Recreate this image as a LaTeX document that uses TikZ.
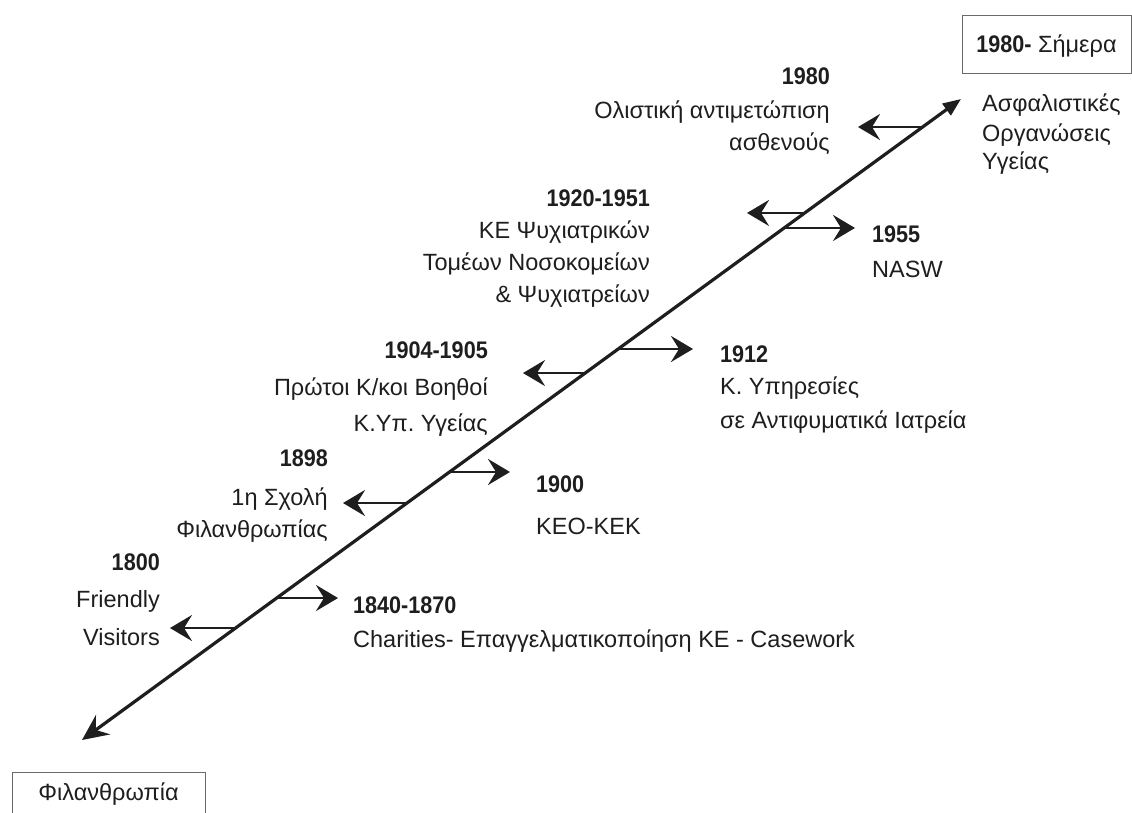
\documentclass[tikz,border=0pt]{standalone}
\usepackage{fontspec}
\setmainfont{Liberation Sans}
\newfontfamily\yrfont{Liberation Sans}[FakeStretch=0.9]
\usetikzlibrary{arrows.meta}
\definecolor{ink}{HTML}{1E1E1E}
\definecolor{boxline}{HTML}{6A6A6A}
\frenchspacing
\begin{document}
\begin{tikzpicture}[x=1pt,y=-1pt,
  reg/.style={font=\fontsize{23.5}{28}\selectfont, text=ink, inner sep=0pt},
  yr/.style={font=\yrfont\fontsize{24}{28}\selectfont\bfseries, text=ink, inner sep=0pt},
  mainline/.style={draw=ink, line width=3.2pt,
    {Stealth[length=26pt,width=24pt,inset=9pt]}-{Triangle[length=18pt,width=14pt]}},
  evarrow/.style={draw=ink, line width=2.8pt, -{Stealth[length=22pt,width=26pt,inset=8pt]}},
  period/.style={draw=boxline, line width=0.8pt, inner sep=0pt, text=ink}]
\useasboundingbox (0,0) rectangle (1132,813);
\fill[white] (0,0) rectangle (1132,813);

% main time axis
\coordinate (start) at (82,740);
\coordinate (end) at (961,99);
\draw[mainline] (start) -- (end);

% points on the axis where events branch
\path (start) -- (end)
  coordinate[pos=0.1747] (e1)
  coordinate[pos=0.2215] (e2)
  coordinate[pos=0.3697] (e3)
  coordinate[pos=0.4181] (e4)
  coordinate[pos=0.5725] (e5)
  coordinate[pos=0.6100] (e6)
  coordinate[pos=0.8222] (e7)
  coordinate[pos=0.7988] (e8)
  coordinate[pos=0.9563] (e9);

\coordinate (t1) at (170,0 |- e1);
\coordinate (t2) at (338,0 |- e2);
\coordinate (t3) at (343,0 |- e3);
\coordinate (t4) at (510,0 |- e4);
\coordinate (t5) at (523,0 |- e5);
\coordinate (t6) at (693,0 |- e6);
\coordinate (t7) at (747,0 |- e7);
\coordinate (t8) at (855,0 |- e8);
\coordinate (t9) at (858,0 |- e9);

\foreach \i in {1,...,9} {\draw[evarrow] (e\i) -- (t\i);}

% period boxes
\node[period, reg, minimum width=169pt, minimum height=58pt, text height=18pt, text depth=0pt]
  (now) at (1046.5,44) {{\yrfont\fontsize{24}{28}\selectfont\bfseries 1980-}\ Σήμερα};
\node[period, reg, minimum width=193pt, minimum height=44pt, text height=12pt, text depth=0pt]
  (phil) at (108.5,794) {Φιλανθρωπία};

% right-top text
\node[reg, anchor=base west] (ins1) at (982,112) {Ασφαλιστικές};
\node[reg, anchor=base west] (ins2) at (982,142) {Οργανώσεις};
\node[reg, anchor=base west] (ins3) at (982,170) {Υγείας};

% 1800
\node[yr, anchor=base east] (y1800) at (160,570) {1800};
\node[reg, anchor=base east] (l1800a) at (160,607) {Friendly};
\node[reg, anchor=base east] (l1800b) at (160,645) {Visitors};

% 1840-1870
\node[yr, anchor=base west] (y1840) at (353,613) {1840-1870};
\node[reg, anchor=base west] (l1840) at (353,647) {Charities- Επαγγελματικοποίηση ΚΕ - Casework};

% 1898
\node[yr, anchor=base east] (y1898) at (328,466) {1898};
\node[reg, anchor=base east] (l1898a) at (328,505) {1η Σχολή};
\node[reg, anchor=base east] (l1898b) at (328,537) {Φιλανθρωπίας};

% 1900
\node[yr, anchor=base west] (y1900) at (536,492) {1900};
\node[reg, anchor=base west] (l1900) at (536,534) {ΚΕΟ-ΚΕΚ};

% 1904-1905
\node[yr, anchor=base east] (y1904) at (488,358) {1904-1905};
\node[reg, anchor=base east] (l1904a) at (488,395) {Πρώτοι Κ/κοι Βοηθοί};
\node[reg, anchor=base east] (l1904b) at (488,431) {Κ.Υπ. Υγείας};

% 1912
\node[yr, anchor=base west] (y1912) at (720,362) {1912};
\node[reg, anchor=base west] (l1912a) at (720,394) {Κ. Υπηρεσίες};
\node[reg, anchor=base west] (l1912b) at (720,428) {σε Αντιφυματικά Ιατρεία};

% 1920-1951
\node[yr, anchor=base east] (y1920) at (650,207) {1920-1951};
\node[reg, anchor=base east] (l1920a) at (650,238) {ΚΕ Ψυχιατρικών};
\node[reg, anchor=base east] (l1920b) at (650,270) {Τομέων Νοσοκομείων};
\node[reg, anchor=base east] (l1920c) at (650,302) {\& Ψυχιατρείων};

% 1955
\node[yr, anchor=base west] (y1955) at (872,242) {1955};
\node[reg, anchor=base west] (l1955) at (872,277) {NASW};

% 1980
\node[yr, anchor=base east] (y1980) at (830,85) {1980};
\node[reg, anchor=base east] (l1980a) at (830,119) {Ολιστική αντιμετώπιση};
\node[reg, anchor=base east] (l1980b) at (830,151) {ασθενούς};
\end{tikzpicture}
\end{document}
